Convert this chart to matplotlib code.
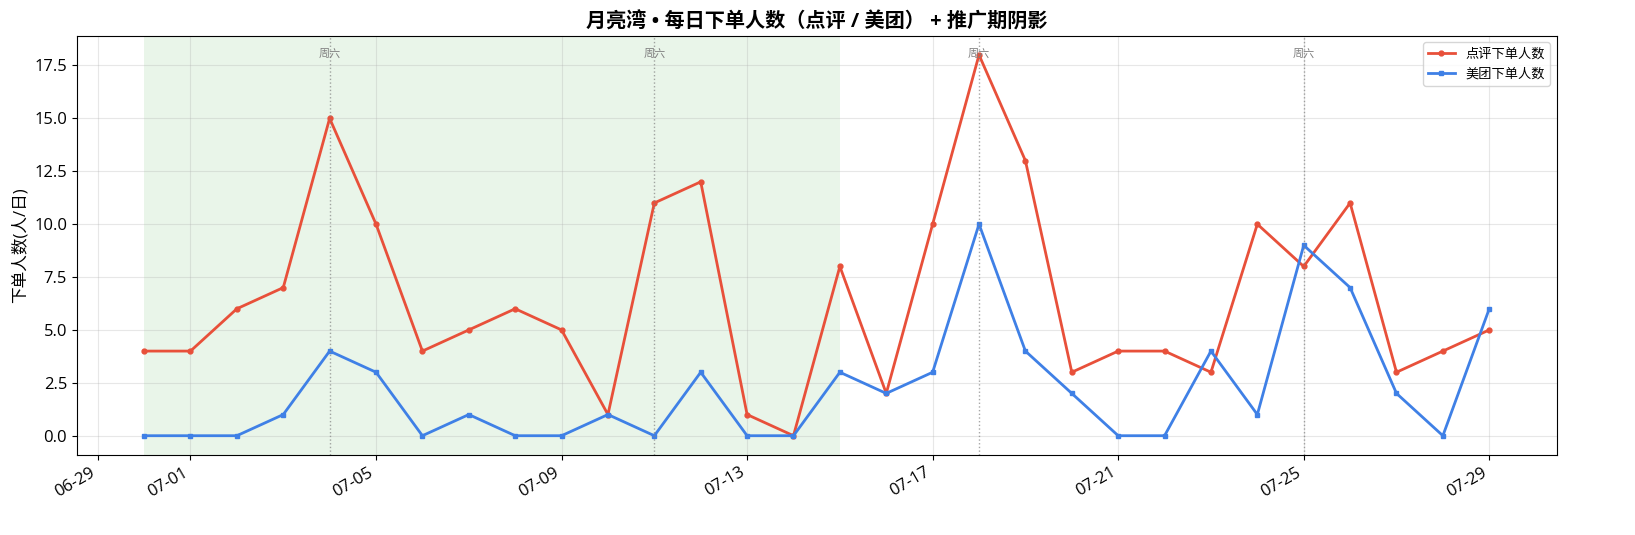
import numpy as np
import pandas as pd
import matplotlib
matplotlib.use('Agg')
import matplotlib.pyplot as plt
import matplotlib.dates as mdates

plt.rcParams['font.family'] = ['Open Sans', 'Noto Sans CJK SC', 'DejaVu Sans']
plt.rcParams['axes.unicode_minus'] = False

dates = pd.date_range('2020-06-30', '2020-07-29', freq='D')
dianping = [4, 4, 6, 7, 15, 10, 4, 5, 6, 5, 1, 11, 12, 1, 0,
            8, 2, 10, 18, 13, 3, 4, 4, 3, 10, 8, 11, 3, 4, 5]
meituan = [0, 0, 0, 1, 4, 3, 0, 1, 0, 0, 1, 0, 3, 0, 0,
           3, 2, 3, 10, 4, 2, 0, 0, 4, 1, 9, 7, 2, 0, 6]
promo_start = pd.Timestamp('2020-06-30')
promo_end = pd.Timestamp('2020-07-15')

fig, ax = plt.subplots(figsize=(16.35, 5.35), dpi=100)

ax.axvspan(promo_start, promo_end, color='#4caf50', alpha=0.12, lw=0)

ax.plot(dates, dianping, color='#e8503a', lw=2, marker='o', ms=3.5, label='点评下单人数')
ax.plot(dates, meituan, color='#3f80e6', lw=2, marker='s', ms=3.5, label='美团下单人数')

# 周六标记
for d in dates[dates.weekday == 5]:
    ax.axvline(d, color='gray', ls=':', lw=1, alpha=0.7)
    ax.text(d, 0.955, '周六', transform=ax.get_xaxis_transform(),
            ha='center', va='center', fontsize=8, color='gray')

ax.xaxis.set_major_formatter(mdates.DateFormatter('%m-%d'))
ax.set_ylabel('下单人数(人/日)', fontsize=12)
ax.set_title('月亮湾 • 每日下单人数（点评 / 美团） + 推广期阴影', fontsize=14.5, fontweight='bold')
ax.grid(True, alpha=0.3)
ax.legend(loc='upper right', fontsize=9.5)
ax.tick_params(labelsize=12)
fig.autofmt_xdate()
plt.subplots_adjust(left=0.047, right=0.952, top=0.933, bottom=0.15)
plt.savefig('out.png')
